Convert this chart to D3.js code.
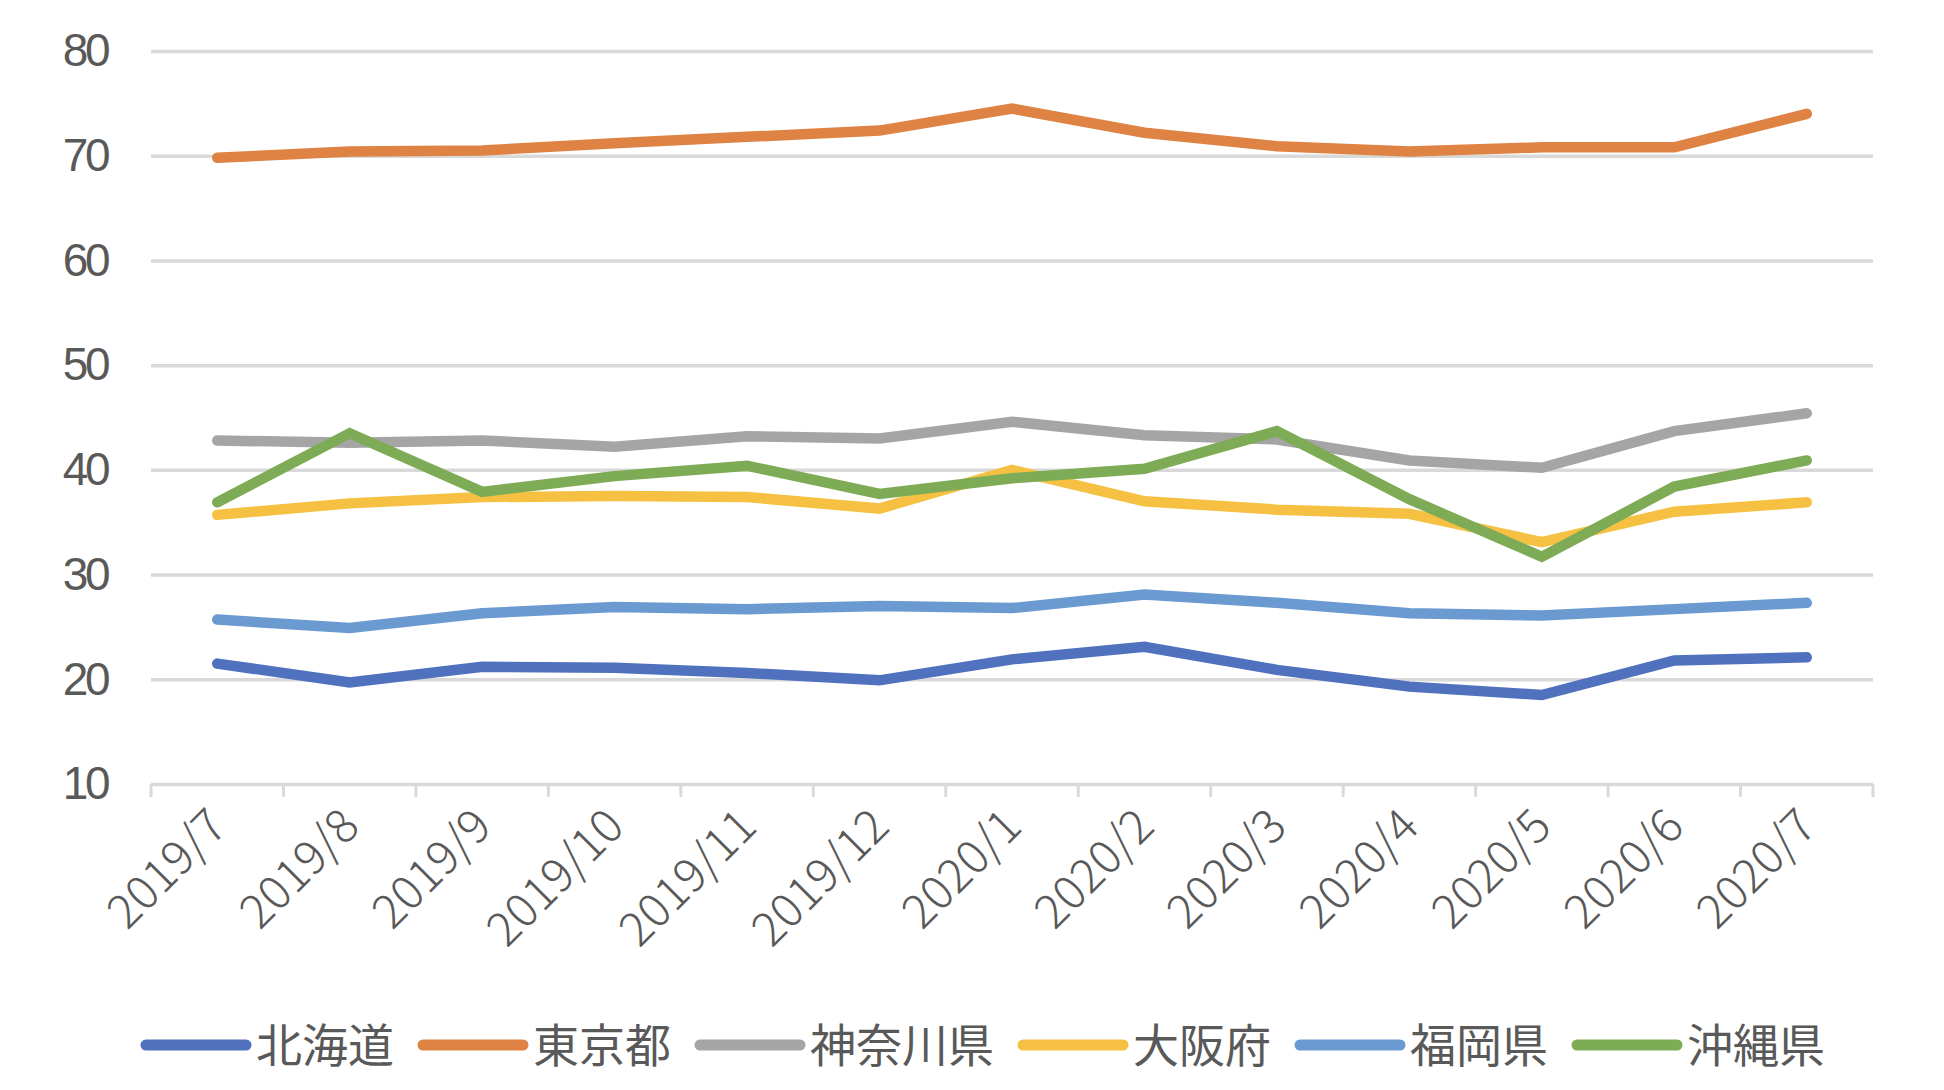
<!DOCTYPE html>
<html>
<head>
<meta charset="utf-8">
<script src="https://cdn.jsdelivr.net/npm/d3@7"></script>
<style>
  body { margin: 0; background: #fff; }
  svg { display: block; }
</style>
</head>
<body>
<svg class="grafico" width="1944" height="1090"></svg>
<script>
// Datos del gráfico
var meses = ["2019/7", "2019/8", "2019/9", "2019/10", "2019/11", "2019/12",
             "2020/1", "2020/2", "2020/3", "2020/4", "2020/5", "2020/6", "2020/7"];

var hokkaido  = [21.5, 19.7, 21.2, 21.1, 20.6, 19.9, 21.9, 23.1, 20.9, 19.3, 18.5, 21.8, 22.1];
var tokyo     = [69.8, 70.4, 70.5, 71.2, 71.8, 72.4, 74.5, 72.2, 70.9, 70.4, 70.8, 70.8, 74.0];
var kanagawa  = [42.8, 42.6, 42.8, 42.2, 43.2, 43.0, 44.6, 43.3, 42.9, 40.9, 40.2, 43.7, 45.4];
var osaka     = [35.7, 36.8, 37.4, 37.5, 37.4, 36.3, 40.0, 37.0, 36.2, 35.8, 33.1, 36.0, 36.9];
var fukuoka   = [25.7, 24.9, 26.3, 26.9, 26.7, 27.0, 26.8, 28.1, 27.3, 26.3, 26.1, 26.7, 27.3];
var okinawa   = [36.9, 43.5, 37.9, 39.4, 40.4, 37.7, 39.2, 40.1, 43.7, 37.2, 31.7, 38.4, 40.9];

var nombres = ["北海道", "東京都", "神奈川県", "大阪府", "福岡県", "沖縄県"];
var colores = ["#4F71BE", "#DE8344", "#A5A5A5", "#F6C143", "#6A9AD0", "#7EAB55"];
var ticksY  = [10, 20, 30, 40, 50, 60, 70, 80];

var series = [hokkaido, tokyo, kanagawa, osaka, fukuoka, okinawa];

var svg = d3.select(".grafico");
var izq = 151, der = 1873, arriba = 51, abajo = 784;
var gris = "#595959";

// Escalas
var x = d3.scaleBand().domain(meses).range([izq, der]);
var y = d3.scaleLinear().domain([10, 80]).range([abajo, arriba]);

function centro(m) { return x(m) + x.bandwidth() / 2; }

// Eje izquierdo con líneas de cuadrícula
var ejeY = d3.axisLeft(y)
  .tickValues(ticksY)
  .tickSize(-(der - izq))
  .tickPadding(44)
  .tickFormat(d3.format("d"));

var gY = svg.append("g")
  .attr("transform", "translate(" + izq + ",0)")
  .call(ejeY);
gY.select(".domain").remove();
gY.selectAll(".tick line")
  .attr("stroke", "#d9d9d9")
  .attr("stroke-width", 3.5);
gY.selectAll(".tick text")
  .attr("fill", gris)
  .style("font-family", "'Liberation Sans', Arial, sans-serif")
  .style("font-size", "46px")
  .style("letter-spacing", "-3.5px");

// Marcas del eje inferior (en los bordes de cada categoría)
var bordes = meses.map(function(m) { return x(m); }).concat([der]);
svg.append("g")
  .selectAll("line")
  .data(bordes)
  .enter()
  .append("line")
  .attr("x1", function(d) { return d; })
  .attr("x2", function(d) { return d; })
  .attr("y1", abajo)
  .attr("y2", abajo + 13)
  .attr("stroke", "#d9d9d9")
  .attr("stroke-width", 3);

// Etiquetas del eje inferior giradas
svg.append("g")
  .selectAll("text")
  .data(meses)
  .enter()
  .append("text")
  .attr("transform", function(d) {
    return "translate(" + (centro(d) + 12) + "," + (abajo + 45) + ") rotate(-45)";
  })
  .attr("text-anchor", "end")
  .attr("fill", gris)
  .style("font-family", "'Noto Sans CJK JP', 'Noto Sans', sans-serif")
  .style("font-size", "47px")
  .style("font-weight", "300")
  .text(function(d) { return d; });

// Líneas de cada prefectura
var linea = d3.line()
  .x(function(d, i) { return centro(meses[i]); })
  .y(function(d) { return y(d); });

svg.append("g")
  .selectAll("path")
  .data(series)
  .enter()
  .append("path")
  .attr("d", linea)
  .attr("fill", "none")
  .attr("stroke", function(d, i) { return colores[i]; })
  .attr("stroke-width", 10.5)
  .attr("stroke-linecap", "round")
  .attr("stroke-linejoin", "miter");

// Leyenda
var leyenda = svg.append("g");
var posX = 146, posY = 1045;
nombres.forEach(function(n, i) {
  leyenda.append("line")
    .attr("x1", posX)
    .attr("x2", posX + 100)
    .attr("y1", posY)
    .attr("y2", posY)
    .attr("stroke", colores[i])
    .attr("stroke-width", 11)
    .attr("stroke-linecap", "round");
  var t = leyenda.append("text")
    .attr("x", posX + 110)
    .attr("y", posY + 17)
    .attr("fill", gris)
    .style("font-family", "'Noto Sans CJK JP', sans-serif")
    .style("font-size", "46px")
    .text(n);
  posX = posX + 110 + t.node().getComputedTextLength() + 29;
});
</script>
</body>
</html>
